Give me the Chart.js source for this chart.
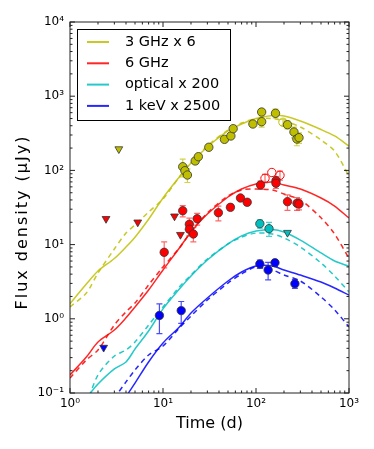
<!DOCTYPE html>
<html>
<head>
<meta charset="utf-8">
<script src="https://cdn.jsdelivr.net/npm/chart.js@4/dist/chart.umd.min.js"></script>
<style>
html, body { margin: 0; padding: 0; background: #fff; }
</style>
</head>
<body>
<canvas id="chart" width="374" height="449"></canvas>
<script>
// model curves, sampled on one time grid (days)
const modelTimes = [1, 1.5, 2, 3, 4, 5, 7, 10, 15, 20, 30, 50, 70, 100, 150, 200, 300, 500, 700, 1000];

const ghz3Solid = [1.6, 2.94, 4.41, 6.5, 9.29, 12.6, 22, 42.5, 81.5, 126, 207, 340, 422, 500, 550, 541, 463, 356, 291, 213];
const ghz3Dash  = [1.45, 2.23, 4.14, 8.73, 14.3, 18.4, 27.5, 41.2, 81.5, 126, 213, 350, 436, 493, 500, 463, 385, 257, 182, 84];
const ghz6Solid = [0.175, 0.305, 0.486, 0.706, 1.03, 1.44, 2.44, 4.55, 9.0, 14.8, 25.8, 43.8, 56.1, 65.6, 69.8, 63.6, 56.1, 42.5, 33.1, 22.8];
const ghz6Dash  = [0.159, 0.279, 0.38, 0.824, 1.24, 1.63, 2.86, 4.99, 9.0, 14.8, 26.7, 45.2, 54.5, 56.1, 54.5, 48.1, 39.9, 23, 13.9, 6.5];
const optSolid  = [null, 0.0857, 0.132, 0.211, 0.262, 0.392, 0.685, 1.36, 2.52, 3.78, 6.2, 10.2, 13.1, 15.2, 16.0, 14.8, 11.5, 7.71, 6.01, 5.1];
const optDash   = [null, 0.069, 0.175, 0.315, 0.38, 0.486, 0.824, 1.44, 2.68, 3.89, 6.4, 10.2, 12.6, 14.3, 13.9, 12.3, 9.29, 5.65, 3.78, 2.3];
const xraySolid = [null, null, null, 0.043, 0.0883, 0.136, 0.262, 0.472, 0.775, 1.2, 1.91, 3.23, 4.27, 5.15, 5.15, 4.55, 3.89, 3.13, 2.6, 2.09];
const xrayDash  = [null, null, 0.043, 0.0857, 0.141, 0.204, 0.325, 0.43, 0.752, 1.09, 1.79, 3.03, 4.02, 4.99, 4.55, 3.89, 3.23, 1.97, 1.32, 0.775];

// observations
const ghz3Times = [16.3, 17.2, 18.3, 22.2, 24.0, 31.1, 45.8, 53.7, 56.8, 92.6, 115, 115, 162, 218, 256, 275, 290];
const ghz3Flux  = [112, 99, 86.7, 134, 153, 205, 262, 291, 365, 422, 612, 453, 588, 413, 329, 265, 276];
const ghz3Err   = [30, 15, 18, 12, 12, 15, 20, 20, 30, 30, 60, 70, 80, 50, 55, 50, 45];
const ghz3OpenTimes = [195];
const ghz3OpenFlux  = [445];
const ghz3OpenErr   = [40];
const ghz3LimTimes  = [3.35];
const ghz3LimFlux   = [194];

const ghz6Times = [10.3, 16.3, 19.2, 19.2, 21.2, 23.3, 39.4, 53.1, 68.1, 80.4, 112, 164, 164, 218, 276, 290];
const ghz6Flux  = [7.87, 28.6, 18.8, 16.1, 13.9, 22.3, 26.9, 31.8, 42.5, 37.2, 63.6, 72.6, 67, 37.9, 36, 35.3];
const ghz6Err   = [3, 5, 4, 3, 3, 4, 6, 3, 3, 3, 8, 10, 10, 9, 7, 6];
const ghz6OpenTimes = [125, 148, 181];
const ghz6OpenFlux  = [78.3, 93.7, 86];
const ghz6OpenErr   = [10, 0, 12];
const ghz6LimTimes  = [2.44, 5.35, 13.3, 15.4];
const ghz6LimFlux   = [22.3, 20, 24.1, 13.6];

const optTimes = [110, 138];
const optFlux  = [19.1, 16.4];
const optErr   = [2.5, 3.5];
const optLimTimes = [218];
const optLimFlux  = [14.5];

const xrayTimes = [9.15, 15.7, 110, 135, 160, 262];
const xrayFlux  = [1.11, 1.29, 5.48, 4.55, 5.7, 2.97];
const xrayErr   = [0.48, 0.42, 0.7, 1.2, 0.6, 0.4];
const xrayLimTimes = [2.3];
const xrayLimFlux  = [0.41];

const legendNames = ['3 GHz x 6', '6 GHz', 'optical x 200', '1 keV x 2500'];
const yTitle = 'Flux density (\u03bcJy)';
const xTicks = [1, 10, 100, 1000];
const yTicks = [0.1, 1, 10, 100, 1000, 10000];

const colors = ['#bfbf00', '#ff0000', '#00bfbf', '#0000ff'];
const lineColors = ['rgba(191,191,0,0.85)', 'rgba(255,0,0,0.85)', 'rgba(0,191,191,0.85)', 'rgba(0,0,255,0.85)'];
const errColors = ['rgba(191,191,0,0.7)', 'rgba(255,40,40,0.7)', 'rgba(0,191,191,0.7)', 'rgba(0,0,255,0.7)'];

const pts = (xs, ys) => xs.map((x, i) => ({ x: x, y: ys[i] }));

const sup = { '-': '\u207b', '0': '\u2070', '1': '\u00b9', '2': '\u00b2', '3': '\u00b3', '4': '\u2074' };
const decadeLabel = v => '10' + String(Math.round(Math.log10(v))).split('').map(c => sup[c]).join('');

const dots = (xs, ys, errs, c) => ({
	data: pts(xs, ys), errs: errs, errColor: errColors[c], showLine: false,
	pointRadius: 4.2, pointBackgroundColor: colors[c], pointBorderColor: '#333', pointBorderWidth: 0.8
});
const openDots = (xs, ys, errs, c) => ({
	data: pts(xs, ys), errs: errs, errColor: errColors[c], showLine: false,
	pointRadius: 4.2, pointBackgroundColor: 'rgba(255,255,255,0)', pointBorderColor: colors[c], pointBorderWidth: 1
});
const limits = (xs, ys, c) => ({
	data: pts(xs, ys), showLine: false, pointStyle: 'triangle', pointRotation: 180,
	pointRadius: 4.5, pointBackgroundColor: colors[c], pointBorderColor: '#333', pointBorderWidth: 0.8
});
const model = (ys, c, dashed) => ({
	data: pts(modelTimes, ys), borderColor: lineColors[c], borderWidth: 1.5, pointRadius: 0,
	borderDash: dashed ? [5, 4] : [], tension: 0.3, spanGaps: false
});

// error bars, drawn under the markers
const errorBars = {
	id: 'errorBars',
	beforeDatasetDraw(chart, args) {
		const ds = chart.data.datasets[args.index];
		if (!ds.errs) return;
		const y = chart.scales.y;
		const a = chart.chartArea;
		const ctx = chart.ctx;
		ctx.save();
		ctx.beginPath();
		ctx.rect(a.left, a.top, a.right - a.left, a.bottom - a.top);
		ctx.clip();
		ctx.strokeStyle = ds.errColor;
		ctx.lineWidth = 1.2;
		args.meta.data.forEach((p, i) => {
			const e = ds.errs[i];
			if (!e) return;
			const v = ds.data[i].y;
			const y0 = y.getPixelForValue(v + e);
			const y1 = y.getPixelForValue(Math.max(v - e, 1e-3));
			ctx.beginPath();
			ctx.moveTo(p.x, y0); ctx.lineTo(p.x, y1);
			ctx.moveTo(p.x - 3, y0); ctx.lineTo(p.x + 3, y0);
			ctx.moveTo(p.x - 3, y1); ctx.lineTo(p.x + 3, y1);
			ctx.stroke();
		});
		ctx.restore();
	}
};

// matplotlib style frame with inward ticks, the legend box and the y title
const frameTicks = {
	id: 'frameTicks',
	afterDraw(chart) {
		const ctx = chart.ctx;
		const a = chart.chartArea;
		const xs = chart.scales.x, ys = chart.scales.y;
		ctx.save();
		ctx.strokeStyle = '#222';
		ctx.lineWidth = 1;
		ctx.strokeRect(a.left, a.top, a.right - a.left, a.bottom - a.top);
		ctx.beginPath();
		const tickX = (v, len) => {
			const px = xs.getPixelForValue(v);
			ctx.moveTo(px, a.bottom); ctx.lineTo(px, a.bottom - len);
			ctx.moveTo(px, a.top); ctx.lineTo(px, a.top + len);
		};
		const tickY = (v, len) => {
			const py = ys.getPixelForValue(v);
			ctx.moveTo(a.left, py); ctx.lineTo(a.left + len, py);
			ctx.moveTo(a.right, py); ctx.lineTo(a.right - len, py);
		};
		xTicks.forEach((d, i) => {
			tickX(d, 5);
			if (i < xTicks.length - 1) for (let k = 2; k < 10; k++) tickX(d * k, 2.5);
		});
		yTicks.forEach((d, i) => {
			tickY(d, 5);
			if (i < yTicks.length - 1) for (let k = 2; k < 10; k++) tickY(d * k, 2.5);
		});
		ctx.stroke();

		const lx = 77, ly = 29, lw = 153, lh = 91;
		ctx.fillStyle = '#fff';
		ctx.fillRect(lx, ly, lw, lh);
		ctx.strokeStyle = '#000';
		ctx.strokeRect(lx + 0.5, ly + 0.5, lw, lh);
		ctx.font = '14.5px "DejaVu Sans"';
		ctx.textBaseline = 'middle';
		legendNames.forEach((name, i) => {
			const ry = 42 + i * 21.3;
			ctx.strokeStyle = lineColors[i];
			ctx.lineWidth = 2;
			ctx.beginPath();
			ctx.moveTo(87, ry); ctx.lineTo(109, ry);
			ctx.stroke();
			ctx.fillStyle = '#000';
			ctx.fillText(name, 125, ry);
		});

		ctx.font = '16px "DejaVu Sans"';
		ctx.letterSpacing = '2px';
		ctx.translate(23, 222);
		ctx.rotate(-Math.PI / 2);
		ctx.textAlign = 'center';
		ctx.fillText(yTitle, 0, 0);
		ctx.restore();
	}
};

new Chart(document.getElementById('chart'), {
	type: 'line',
	data: {
		datasets: [
			dots(ghz3Times, ghz3Flux, ghz3Err, 0),
			openDots(ghz3OpenTimes, ghz3OpenFlux, ghz3OpenErr, 0),
			limits(ghz3LimTimes, ghz3LimFlux, 0),
			dots(ghz6Times, ghz6Flux, ghz6Err, 1),
			openDots(ghz6OpenTimes, ghz6OpenFlux, ghz6OpenErr, 1),
			limits(ghz6LimTimes, ghz6LimFlux, 1),
			dots(optTimes, optFlux, optErr, 2),
			limits(optLimTimes, optLimFlux, 2),
			dots(xrayTimes, xrayFlux, xrayErr, 3),
			limits(xrayLimTimes, xrayLimFlux, 3),
			model(ghz3Solid, 0, false),
			model(ghz3Dash, 0, true),
			model(ghz6Solid, 1, false),
			model(ghz6Dash, 1, true),
			model(optSolid, 2, false),
			model(optDash, 2, true),
			model(xraySolid, 3, false),
			model(xrayDash, 3, true)
		]
	},
	options: {
		responsive: false,
		animation: false,
		layout: { padding: { top: 22, right: 25, left: 0, bottom: 0 } },
		plugins: { legend: { display: false }, tooltip: { enabled: false } },
		scales: {
			x: {
				type: 'logarithmic', min: 1, max: 1000,
				afterBuildTicks: s => { s.ticks = xTicks.map(v => ({ value: v })); },
				afterFit: s => { s.height = 56; },
				grid: { display: false, drawTicks: false },
				border: { display: false },
				ticks: {
					callback: v => decadeLabel(v), autoSkip: false, maxRotation: 0,
					font: { family: 'DejaVu Sans', size: 12 }, color: '#000', padding: 4
				},
				title: {
					display: true, text: 'Time (d)', color: '#000',
					font: { family: 'DejaVu Sans', size: 16 }, padding: { top: 0, bottom: 16 }
				}
			},
			y: {
				type: 'logarithmic', min: 0.1, max: 10000,
				afterBuildTicks: s => { s.ticks = yTicks.map(v => ({ value: v })); },
				afterFit: s => { s.width = 70; },
				grid: { display: false, drawTicks: false },
				border: { display: false },
				ticks: {
					callback: v => decadeLabel(v), autoSkip: false,
					font: { family: 'DejaVu Sans', size: 12 }, color: '#000', padding: 6
				},
				title: { display: false }
			}
		}
	},
	plugins: [errorBars, frameTicks]
});
</script>
</body>
</html>
